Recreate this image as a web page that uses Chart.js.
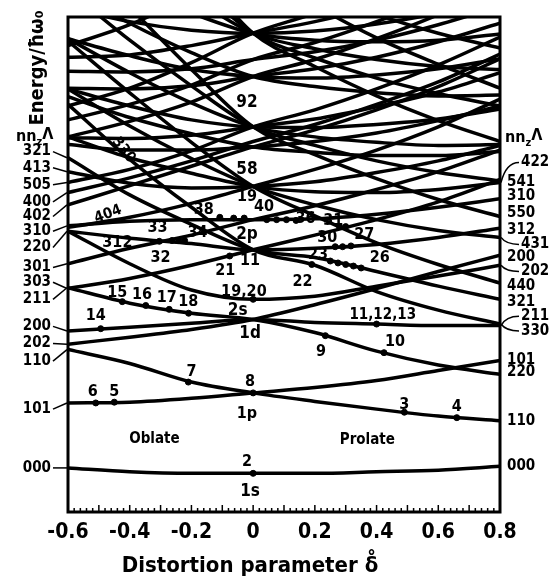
<!DOCTYPE html>
<html>
<head>
<meta charset="utf-8">
<script src="https://cdn.jsdelivr.net/npm/chart.js@4.4.1/dist/chart.umd.min.js"></script>
<style>
  html, body { margin: 0; padding: 0; background: #fff; }
  #wrap { width: 557px; height: 580px; }
</style>
</head>
<body>
<div id="wrap"><canvas id="c"></canvas></div>
<script>
// deformation grid (delta) and level energies in units of hbar*omega0
const deltas = [-0.6, -0.4, -0.2, 0, 0.2, 0.4, 0.6, 0.8];

// N = 0, 1
const e000 = [1.57, 1.52, 1.50, 1.50, 1.50, 1.52, 1.54, 1.59];
const e110 = [3.10, 2.92, 2.68, 2.54, 2.43, 2.33, 2.24, 2.18];
const e101 = [2.41, 2.42, 2.47, 2.54, 2.61, 2.70, 2.83, 2.96];
// N = 2
const e220 = [4.63, 4.21, 3.87, 3.75, 3.79, 3.92, 4.05, 4.19];
const e211 = [3.90, 3.70, 3.57, 3.49, 3.32, 3.08, 2.90, 2.78];
const e200 = [3.34, 3.39, 3.44, 3.49, 3.45, 3.43, 3.41, 3.41];
const e202 = [3.17, 3.26, 3.36, 3.49, 3.68, 3.89, 4.11, 4.32];
// N = 3
const e330 = [6.27, 5.56, 4.94, 4.39, 4.19, 3.85, 3.61, 3.43];
const e321 = [5.58, 5.10, 4.72, 4.39, 4.29, 4.11, 3.92, 3.75];
const e312 = [4.63, 4.54, 4.47, 4.39, 4.41, 4.46, 4.55, 4.67];
const e303 = [3.89, 4.02, 4.19, 4.39, 4.58, 4.78, 5.01, 5.30];
const e310 = [4.70, 4.76, 4.78, 4.78, 4.79, 4.85, 4.94, 5.05];
const e301 = [4.21, 4.41, 4.58, 4.78, 4.96, 5.17, 5.40, 5.68];
// N = 4
const e440 = [7.09, 6.42, 5.78, 5.21, 4.83, 4.48, 4.20, 3.96];
const e431 = [6.47, 5.99, 5.57, 5.21, 4.97, 4.78, 4.64, 4.55];
const e422 = [5.85, 5.58, 5.38, 5.21, 5.14, 5.13, 5.17, 5.26];
const e413 = [5.40, 5.25, 5.19, 5.21, 5.27, 5.39, 5.54, 5.74];
const e404 = [4.68, 4.81, 4.99, 5.21, 5.43, 5.68, 5.98, 6.34];
const e420 = [6.37, 6.10, 5.89, 5.72, 5.65, 5.61, 5.61, 5.66];
const e411 = [5.75, 5.68, 5.68, 5.72, 5.79, 5.90, 6.06, 6.25];
const e402 = [4.97, 5.22, 5.47, 5.72, 5.94, 6.20, 6.50, 6.86];
const e400 = [5.13, 5.32, 5.54, 5.79, 6.01, 6.27, 6.56, 6.92];
// N = 5
const e550 = [8.38, 7.53, 6.72, 5.98, 5.62, 5.31, 5.04, 4.82];
const e541 = [7.75, 7.10, 6.51, 5.98, 5.74, 5.54, 5.39, 5.28];
const e532 = [7.12, 6.68, 6.29, 5.98, 5.85, 5.78, 5.74, 5.75];
const e523 = [6.47, 6.25, 6.07, 5.98, 5.97, 6.01, 6.08, 6.21];
const e514 = [5.84, 5.83, 5.87, 5.98, 6.08, 6.24, 6.43, 6.68];
const e505 = [5.26, 5.43, 5.67, 5.98, 6.20, 6.47, 6.78, 7.14];
const e530 = [7.76, 7.32, 6.94, 6.63, 6.50, 6.42, 6.38, 6.39];
const e521 = [7.12, 6.90, 6.72, 6.63, 6.61, 6.65, 6.73, 6.86];
const e512 = [6.48, 6.47, 6.51, 6.63, 6.73, 6.88, 7.08, 7.32];
const e503 = [5.85, 6.05, 6.30, 6.63, 6.85, 7.12, 7.43, 7.79];
const e510 = [6.70, 6.69, 6.73, 6.85, 6.95, 7.10, 7.30, 7.54];
const e501 = [6.07, 6.27, 6.52, 6.85, 7.07, 7.34, 7.65, 8.01];
// N = 6, 7 (only their lower ends reach the frame)
const e660 = [9.81, 8.91, 8.08, 7.19, 6.76, 6.38, 6.06, 5.79];
const e651 = [9.41, 8.61, 7.88, 7.19, 6.87, 6.61, 6.41, 6.25];
const e642 = [8.78, 8.19, 7.66, 7.19, 6.99, 6.85, 6.76, 6.72];
const e633 = [8.15, 7.76, 7.45, 7.19, 7.10, 7.08, 7.10, 7.18];
const e624 = [7.52, 7.34, 7.23, 7.19, 7.22, 7.31, 7.45, 7.65];
const e615 = [6.88, 6.91, 7.03, 7.19, 7.34, 7.54, 7.80, 8.11];
const e606 = [6.25, 6.48, 6.81, 7.19, 7.45, 7.77, 8.15, 8.57];
const e770 = [10.85, 10.20, 9.30, 8.14, 7.56, 7.13, 6.79, 6.48];
const e761 = [10.20, 9.56, 8.91, 8.14, 7.72, 7.43, 7.19, 7.00];
const e707 = [7.03, 7.30, 7.68, 8.14, 8.91, 9.56, 10.20, 10.85];

const levelList = [e000, e110, e101, e220, e211, e200, e202,
  e330, e321, e312, e303, e310, e301,
  e440, e431, e422, e413, e404, e420, e411, e402, e400,
  e550, e541, e532, e523, e514, e505, e530, e521, e512, e503, e510, e501,
  e660, e651, e642, e633, e624, e615, e606, e770, e761, e707];

// filled dots (closed-shell particle numbers)
const dotD = [0, -0.45, -0.51, -0.21, 0, 0.49, 0.66, 0.234, 0.424, 0.40, -0.494,
  -0.424, -0.348, -0.272, -0.209, 0, -0.076, 0.19,
  0.25, 0.275, 0.30, 0.325, 0.35, 0.266, 0.29, 0.317,
  0.044, 0.076, 0.108, 0.139, 0.28, 0.30, -0.108, -0.063, -0.029,
  -0.263, -0.241, -0.222, -0.304];
const dotE = [1.50, 2.42, 2.41, 2.68, 2.54, 2.29, 2.22, 3.28, 3.06, 3.43, 3.37,
  3.72, 3.67, 3.62, 3.57, 3.75, 4.31, 4.20,
  4.245, 4.22, 4.20, 4.18, 4.155, 4.43, 4.43, 4.44,
  4.78, 4.78, 4.78, 4.77, 4.69, 4.69, 4.81, 4.80, 4.80,
  4.51, 4.51, 4.51, 4.50];

// asymptotic labels: [text, label energy, level]
const leftLabels = [['321', 5.66, e321], ['413', 5.45, e413], ['505', 5.23, e505],
  ['400', 5.01, e400], ['402', 4.82, e402], ['310', 4.63, e310], ['220', 4.42, e220],
  ['301', 4.16, e301], ['303', 3.97, e303], ['211', 3.75, e211], ['200', 3.40, e200],
  ['202', 3.18, e202], ['110', 2.95, e110], ['101', 2.33, e101], ['000', 1.57, e000]];
const rightLabels = [['422', 5.52, e422], ['541', 5.27, e541], ['310', 5.08, e310],
  ['550', 4.87, e550], ['312', 4.65, e312], ['431', 4.46, e431], ['200', 4.29, e202],
  ['202', 4.11, e220], ['440', 3.92, e440], ['321', 3.72, e321], ['211', 3.53, e200],
  ['330', 3.34, e330], ['101', 2.97, e101], ['220', 2.81, e211], ['110', 2.17, e110],
  ['000', 1.59, e000]];

// text inside the frame: [text, delta, energy, size, angle]
const tags = [['92', -0.02, 6.29, 17], ['58', -0.02, 5.43, 17], ['19', -0.02, 5.07, 16],
  ['40', 0.035, 4.95, 16], ['38', -0.16, 4.91, 16], ['36', 0.17, 4.79, 16],
  ['31', 0.26, 4.77, 16], ['2p', -0.02, 4.59, 17], ['33', -0.31, 4.68, 16],
  ['34', -0.18, 4.61, 16], ['312', -0.44, 4.48, 16], ['404', -0.47, 4.85, 15, -0.35],
  ['330', -0.42, 5.68, 15, 0.9], ['30', 0.24, 4.54, 16], ['27', 0.36, 4.58, 16],
  ['23', 0.21, 4.33, 16], ['26', 0.41, 4.28, 16], ['22', 0.16, 3.98, 16],
  ['21', -0.09, 4.12, 16], ['11', -0.01, 4.25, 16], ['19,20', -0.03, 3.85, 16],
  ['2s', -0.05, 3.61, 17], ['1d', -0.01, 3.31, 17], ['9', 0.22, 3.07, 16],
  ['10', 0.46, 3.20, 16], ['11,12,13', 0.42, 3.54, 15], ['14', -0.51, 3.54, 16],
  ['15', -0.44, 3.84, 16], ['16', -0.36, 3.81, 16], ['17', -0.28, 3.77, 16],
  ['18', -0.21, 3.72, 16], ['32', -0.30, 4.28, 16], ['7', -0.20, 2.81, 16],
  ['8', -0.01, 2.68, 16], ['6', -0.52, 2.55, 16], ['5', -0.45, 2.55, 16],
  ['1p', -0.02, 2.27, 16], ['Oblate', -0.32, 1.94, 15], ['Prolate', 0.37, 1.93, 15],
  ['3', 0.49, 2.38, 16], ['4', 0.66, 2.36, 16], ['2', -0.02, 1.65, 16],
  ['1s', -0.01, 1.26, 17]];

const FONT = "'DejaVu Sans Condensed', 'Liberation Sans Narrow', sans-serif";

const datasets = levelList.map(lv => ({
  data: deltas.map((d, i) => ({ x: d, y: lv[i] })),
  borderColor: '#000',
  borderWidth: 3.5,
  pointRadius: 0,
  cubicInterpolationMode: 'monotone',
  fill: false
}));
datasets.push({
  type: 'scatter',
  data: dotD.map((d, i) => ({ x: d, y: dotE[i] })),
  pointRadius: 3,
  pointBackgroundColor: '#000',
  pointBorderColor: '#000',
  showLine: false
});

const deco = {
  id: 'deco',
  afterDraw(chart) {
    const { ctx, chartArea: a, scales: { x, y } } = chart;
    ctx.save();
    ctx.strokeStyle = '#000';
    ctx.fillStyle = '#000';
    // frame
    ctx.lineWidth = 3;
    ctx.strokeRect(a.left, a.top, a.right - a.left, a.bottom - a.top);
    // little ticks along the bottom
    ctx.lineWidth = 1.5;
    for (let i = 0; i <= 70; i++) {
      const px = x.getPixelForValue(-0.6 + i * 0.02);
      const h = i % 5 === 0 ? 7 : 4;
      ctx.beginPath(); ctx.moveTo(px, a.bottom); ctx.lineTo(px, a.bottom - h); ctx.stroke();
    }
    // left labels
    ctx.font = 'bold 15px ' + FONT;
    ctx.textBaseline = 'middle';
    ctx.lineWidth = 1.5;
    leftLabels.forEach(([t, e, lv]) => {
      const ty = y.getPixelForValue(e), ly = y.getPixelForValue(lv[0]);
      ctx.textAlign = 'right';
      ctx.fillText(t, 51, ty);
      ctx.beginPath(); ctx.moveTo(53, ty); ctx.lineTo(a.left - 1, ly); ctx.stroke();
    });
    rightLabels.forEach(([t, e, lv]) => {
      const ty = y.getPixelForValue(e), ly = y.getPixelForValue(lv[lv.length - 1]);
      ctx.textAlign = 'left';
      if (Math.abs(ty - ly) > 4) {
        ctx.fillText(t, 521, ty);
        ctx.beginPath(); ctx.moveTo(a.right + 1, ly);
        ctx.quadraticCurveTo(a.right + 6, ty, 519, ty); ctx.stroke();
      } else {
        ctx.fillText(t, 507, ty);
      }
    });
    // nn_z Lambda headers
    const header = (x0, e) => {
      const ty = y.getPixelForValue(e);
      ctx.textAlign = 'left';
      ctx.font = 'bold 16px ' + FONT;
      ctx.fillText('nn', x0, ty);
      let w = ctx.measureText('nn').width;
      ctx.font = 'bold 11px ' + FONT;
      ctx.fillText('z', x0 + w, ty + 5);
      w += ctx.measureText('z').width;
      ctx.font = 'bold 16px ' + FONT;
      ctx.fillText('Λ', x0 + w, ty - 2);
    };
    header(16, 5.85);
    header(505, 5.84);
    // energy axis title
    ctx.save();
    ctx.translate(38, 68);
    ctx.rotate(-Math.PI / 2);
    ctx.textAlign = 'center';
    ctx.font = 'bold 20px ' + FONT;
    ctx.fillText('Energy/ħω₀', 0, 0);
    ctx.restore();
    // distortion title
    ctx.textAlign = 'center';
    ctx.font = 'bold 22px ' + FONT;
    ctx.fillText('Distortion parameter δ̊', 250, 566);
    // inner tags
    tags.forEach(([t, d, e, s, ang]) => {
      ctx.save();
      ctx.translate(x.getPixelForValue(d), y.getPixelForValue(e));
      if (ang) ctx.rotate(ang);
      ctx.font = 'bold ' + s + 'px ' + FONT;
      ctx.textAlign = 'center';
      ctx.fillText(t, 0, 0);
      ctx.restore();
    });
    ctx.restore();
  }
};

new Chart(document.getElementById('c'), {
  type: 'line',
  data: { datasets },
  options: {
    responsive: true,
    maintainAspectRatio: false,
    animation: false,
    layout: { padding: { left: 68, right: 57, top: 17, bottom: 0 } },
    plugins: { legend: { display: false }, tooltip: { enabled: false } },
    scales: {
      x: {
        type: 'linear', min: -0.6, max: 0.8,
        grid: { display: false, drawTicks: false },
        border: { display: false },
        afterFit: s => { s.height = 68; },
        ticks: {
          stepSize: 0.2, padding: 8, color: '#000',
          font: { family: FONT, size: 21, weight: 'bold' },
          callback: v => Math.abs(v) < 1e-9 ? '0' : v.toFixed(1)
        }
      },
      y: { display: false, min: 1.0, max: 7.40 }
    }
  },
  plugins: [deco]
});
</script>
</body>
</html>
